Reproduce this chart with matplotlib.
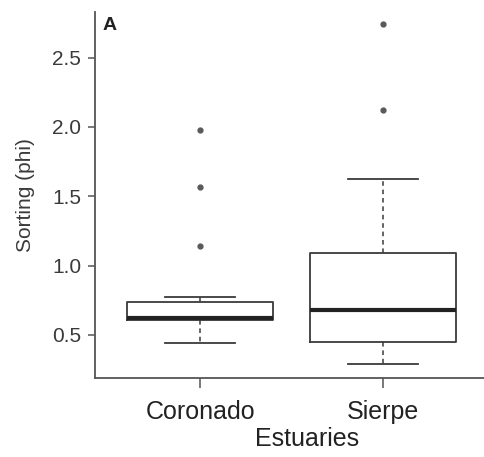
import matplotlib
matplotlib.use("Agg")
import matplotlib.pyplot as plt

plt.rcParams['font.family'] = ['Liberation Sans', 'DejaVu Sans']

# Box summary values
estuaries = ['Coronado', 'Sierpe']
q1 = [0.61, 0.45]
med = [0.62, 0.68]
q3 = [0.74, 1.09]
whis_lo = [0.44, 0.29]
whis_hi = [0.775, 1.625]
outliers = [[1.14, 1.57, 1.98], [2.12, 2.74]]

ink = '#3a3a3a'

stats = []
for i, name in enumerate(estuaries):
    stats.append(dict(label=name, med=med[i], q1=q1[i], q3=q3[i],
                      whislo=whis_lo[i], whishi=whis_hi[i], fliers=outliers[i]))

fig = plt.figure(figsize=(4.85, 4.57), dpi=100)
ax = fig.add_axes([0.196, 0.173, 0.804, 0.801])

ax.bxp(stats, positions=[1, 2], widths=0.8, showfliers=True,
       boxprops=dict(color=ink, linewidth=1.3),
       medianprops=dict(color='#222222', linewidth=3),
       whiskerprops=dict(color=ink, linewidth=1.1, linestyle=(0, (3, 2.5))),
       capprops=dict(color=ink, linewidth=1.3),
       capwidths=0.38,
       flierprops=dict(marker='o', markersize=3.5, markerfacecolor='#5a5a5a',
                       markeredgecolor='#5a5a5a'))

ax.set_xlim(0.426, 2.557)
ax.set_ylim(0.19, 2.83)
ax.set_yticks([0.5, 1.0, 1.5, 2.0, 2.5])
ax.set_yticklabels(['0.5', '1.0', '1.5', '2.0', '2.5'])

for s in ['top', 'right']:
    ax.spines[s].set_visible(False)
for s in ['left', 'bottom']:
    ax.spines[s].set_color('#555555')
    ax.spines[s].set_linewidth(1.3)

ax.tick_params(axis='y', length=5, width=1.1, color='#555555', labelsize=15,
               labelcolor=ink, pad=5)
ax.tick_params(axis='x', length=7, width=1.1, color='#555555', labelsize=18,
               labelcolor='#222222', pad=9)

ax.set_ylabel('Sorting (phi)', fontsize=15, color=ink, labelpad=12)
ax.set_xlabel('Estuaries', fontsize=18, color='#222222')
ax.xaxis.set_label_coords(0.544, -0.135)
ax.text(0.02, 0.985, 'A', transform=ax.transAxes, fontsize=14,
        fontweight='bold', color='#222222', va='top', ha='left')

fig.savefig('out.png', dpi=100)
